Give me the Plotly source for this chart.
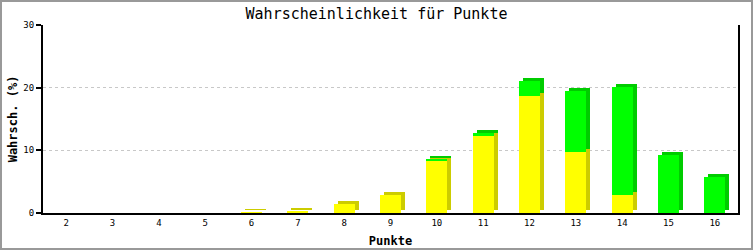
import plotly.graph_objects as go
import numpy as np

points = [2, 3, 4, 5, 6, 7, 8, 9, 10, 11, 12, 13, 14, 15, 16]
tick_labels = [str(p) for p in points]
yellow_vals = [0, 0, 0, 0, 0.1, 0.3, 1.4, 2.9, 8.3, 12.3, 18.6, 9.8, 2.8, 0, 0]
green_vals = [0, 0, 0, 0, 0, 0, 0, 0, 0.3, 0.4, 2.4, 9.7, 17.3, 9.2, 5.7]

YELLOW, YELLOW_DARK = "#ffff00", "#cccc00"
GREEN, GREEN_DARK = "#00ff00", "#00cc00"
BAR_W = 0.45
DX = 0.086   # 3D depth in x units (~4 px)
DY = 0.48    # 3D depth in y units (~3 px)

x = np.array(points, dtype=float)
yv = np.array(yellow_vals, dtype=float)
gv = np.array(green_vals, dtype=float)

fig = go.Figure()
common = dict(width=BAR_W, marker_line_width=0, hoverinfo="skip", showlegend=False)

# back (3D depth) faces
fig.add_trace(go.Bar(x=x + DX, y=np.where(yv > 0, yv, 0), base=np.where(yv > 0, DY, 0),
                     marker_color=YELLOW_DARK, **common))
fig.add_trace(go.Bar(x=x + DX, y=np.where(gv > 0, gv, 0), base=np.where(gv > 0, yv + DY, 0),
                     marker_color=GREEN_DARK, **common))
# front faces
fig.add_trace(go.Bar(x=x, y=yv, base=0, marker_color=YELLOW, **common))
fig.add_trace(go.Bar(x=x, y=gv, base=yv, marker_color=GREEN, **common))

mono = "DejaVu Sans Mono"
fig.update_layout(
    width=753, height=250,
    margin=dict(l=43, r=15, t=25, b=37, autoexpand=False),
    paper_bgcolor="white", plot_bgcolor="white",
    barmode="overlay",
    bargap=0,
    title=dict(text="Wahrscheinlichkeit für Punkte", x=0.5, xanchor="center",
               y=1 - 14 / 250, yanchor="middle", yref="container",
               font=dict(family=mono, size=15, color="black")),
    xaxis=dict(range=[1.5, 16.5], tickvals=points, ticktext=tick_labels, automargin=False,
               showgrid=False, zeroline=False, showline=True, linecolor="black", linewidth=2,
               ticks="", tickfont=dict(family=mono, size=9, color="black"),
               title=dict(text="<b>Punkte</b>", font=dict(family=mono, size=12, color="black"),
                          standoff=10)),
    yaxis=dict(range=[0, 30], tickvals=[0, 10, 20, 30], automargin=False,
               showgrid=True, gridcolor="#c8c8c8", griddash="dot", gridwidth=1,
               zeroline=False, showline=True, linecolor="black", linewidth=2, mirror=True,
               ticks="outside", ticklen=5, tickwidth=2, tickcolor="black",
               tickfont=dict(family=mono, size=9, color="black"),
               title=dict(text="<b>Wahrsch. (%)</b>", font=dict(family=mono, size=12, color="black"),
                          standoff=3)),
    shapes=[dict(type="rect", xref="paper", yref="paper",
                 x0=-43 / 695, x1=1 + 15 / 695, y0=-37 / 188, y1=1 + 25 / 188,
                 line=dict(color="#999999", width=4), layer="above")],
)

fig.write_html("out.html")
